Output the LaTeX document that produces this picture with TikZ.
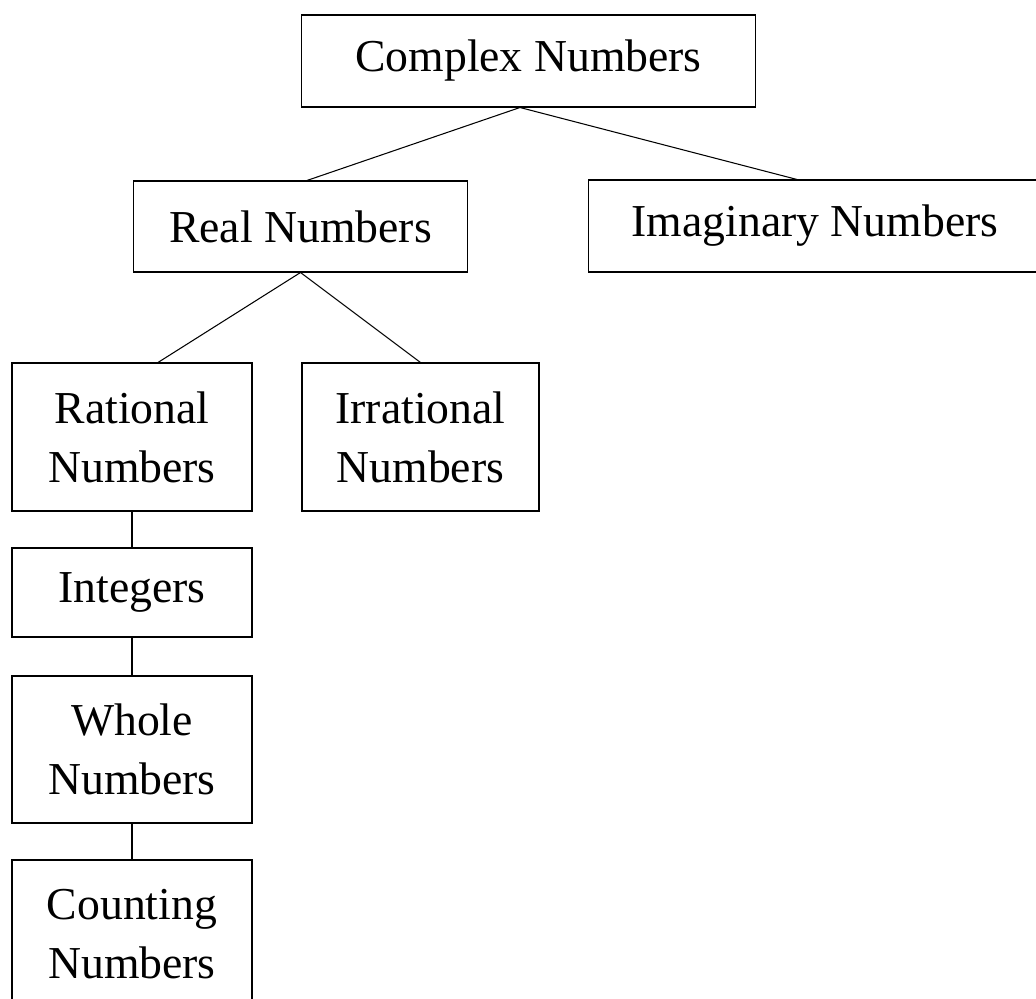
\documentclass[tikz,border=0pt]{standalone}
\usepackage{fontspec}
\setmainfont{Liberation Serif}
\usetikzlibrary{positioning}
\tikzset{numbox/.style={draw=black, line width=0.6pt, inner sep=0pt, align=center,
    font=\fontsize{26}{33.5}\selectfont}}
\tikzset{link/.style={draw=black, line width=0.6pt}}

\begin{document}
\begin{tikzpicture}[x=0.02cm, y=-0.02cm]
  \useasboundingbox (0,0) rectangle (1036,999);

  % Top level
  \node[numbox, minimum width=9.1cm, minimum height=1.84cm] (complex) at (528.5,61) {Complex Numbers};

  % Second level: real and imaginary
  \node[numbox, minimum width=6.7cm, minimum height=1.82cm] (real) at (300.5,226.5) {Real Numbers};
  \node[numbox, minimum width=9.08cm, minimum height=1.84cm] (imag) at (815,226) {Imaginary Numbers};

  % Third level: rational and irrational
  \node[numbox, minimum width=4.8cm, minimum height=2.96cm] (rational) at (132,437) {Rational\\Numbers};
  \node[numbox, minimum width=4.74cm, minimum height=2.96cm] (irrational) at (420.5,437) {Irrational\\Numbers};

  % Chain under rational numbers
  \node[numbox, minimum width=4.8cm, minimum height=1.78cm] (integers) at (132,592.5) {Integers};
  \node[numbox, minimum width=4.8cm, minimum height=2.94cm] (whole) at (132,749.5) {Whole\\Numbers};
  \node[numbox, minimum width=4.8cm, minimum height=2.96cm] (counting) at (132,934) {Counting\\Numbers};

  % Connectors
  \draw[link] ([xshift=-0.17cm]complex.south) -- ([xshift=0.13cm]real.north);
  \draw[link] ([xshift=-0.17cm]complex.south) -- ([xshift=-0.36cm]imag.north);
  \draw[link] (real.south) -- ([xshift=0.52cm]rational.north);
  \draw[link] (real.south) -- (irrational.north);
  \draw[link] (rational.south) -- (integers.north);
  \draw[link] (integers.south) -- (whole.north);
  \draw[link] (whole.south) -- (counting.north);
\end{tikzpicture}
\end{document}
